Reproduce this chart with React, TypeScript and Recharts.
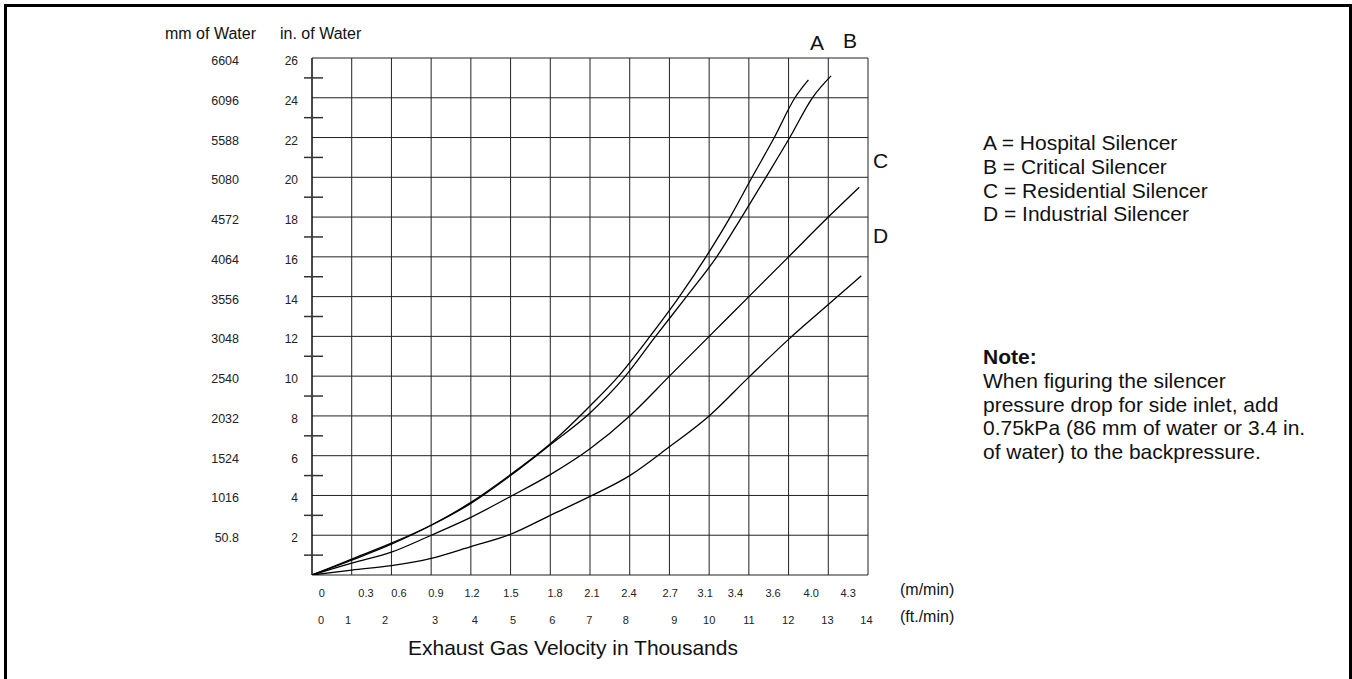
import { LineChart, Line, XAxis, YAxis, CartesianGrid } from 'recharts'

// velocity in thousands of ft./min, pressure in in. of water
const aX = [0, 1, 2, 3, 4, 5, 6, 7, 7.72, 8.51, 9.25, 9.92, 10.53, 11.08, 11.64, 12.16, 12.5]
const aY = [0, 0.75, 1.55, 2.5, 3.65, 5.05, 6.6, 8.5, 10, 12, 14, 16, 18, 20, 22, 24, 24.9]
const bX = [0, 1, 2, 3, 4, 5, 6, 7, 7.89, 8.65, 9.43, 10.19, 10.82, 11.43, 12.03, 12.6, 13.07]
const bY = [0, 0.8, 1.6, 2.5, 3.6, 5.0, 6.55, 8.15, 10, 12, 14, 16, 18, 20, 22, 24, 25.1]
const cX = [0, 1, 2, 3, 4, 5, 6, 7, 8, 9, 10, 11, 12, 13, 13.78]
const cY = [0, 0.6, 1.15, 2, 2.9, 3.95, 5.05, 6.35, 8, 10, 12, 14, 16, 18, 19.5]
const dX = [0, 1, 2, 3, 4, 5, 6, 7, 8, 9, 10, 11, 12, 13, 13.83]
const dY = [0, 0.25, 0.47, 0.84, 1.43, 2.05, 3.0, 3.95, 5.0, 6.45, 8, 9.95, 11.85, 13.6, 15.05]

const inTicks = [2, 4, 6, 8, 10, 12, 14, 16, 18, 20, 22, 24, 26]
const mmLabels = ['50.8', '1016', '1524', '2032', '2540', '3048', '3556', '4064', '4572', '5080', '5588', '6096', '6604']
const minorTicks = [1, 3, 5, 7, 9, 11, 13, 15, 17, 19, 21, 23, 25]
const gridX = [0, 1, 2, 3, 4, 5, 6, 7, 8, 9, 10, 11, 12, 13, 14]
const gridY = [0, 2, 4, 6, 8, 10, 12, 14, 16, 18, 20, 22, 24, 26]

// where each label sits along the ft./min scale
const mTickAt = [0.25, 1.36, 2.19, 3.12, 4.03, 5.01, 6.12, 7.05, 7.98, 9.02, 9.9, 10.66, 11.61, 12.57, 13.5]
const mLabels = ['0', '0.3', '0.6', '0.9', '1.2', '1.5', '1.8', '2.1', '2.4', '2.7', '3.1', '3.4', '3.6', '4.0', '4.3']
const ftTickAt = [0.23, 0.91, 1.84, 3.1, 4.1, 5.06, 6.05, 6.98, 7.9, 9.12, 10.0, 11.0, 11.99, 12.98, 13.96]
const ftLabels = ['0', '1', '2', '3', '4', '5', '6', '7', '8', '9', '10', '11', '12', '13', '14']

const legend = ['A = Hospital Silencer', 'B = Critical Silencer', 'C = Residential Silencer', 'D = Industrial Silencer']
const noteLines = ['When figuring the silencer', 'pressure drop for side inlet, add', '0.75kPa (86 mm of water or 3.4 in.', 'of water) to the backpressure.']

const toPts = (xs: number[], ys: number[]) => xs.map((x, i) => ({ x, y: ys[i] }))
const series = [toPts(aX, aY), toPts(bX, bY), toPts(cX, cY), toPts(dX, dY)]
const yTicks = [0, ...minorTicks, ...inTicks].sort((p, q) => p - q)

const FONT = "'Liberation Sans', Arial, sans-serif"

const YTick = (props: any) => {
  const { x, y, payload } = props
  const v = payload.value
  if (minorTicks.includes(v)) {
    return <line x1={x - 8} x2={x + 11} y1={y} y2={y} stroke="#333" strokeWidth={1.5} />
  }
  const i = inTicks.indexOf(v)
  if (i < 0) return <g />
  return (
    <g fill="#222" fontFamily={FONT}>
      <text x={x - 14} y={y + 3} textAnchor="end" dominantBaseline="central" fontSize={12}>{inTicks[i]}</text>
      <text x={x - 73} y={y + 3} textAnchor="end" dominantBaseline="central" fontSize={12.5}>{mmLabels[i]}</text>
    </g>
  )
}

const txt = (left: number, top: number, size: number, lh: number, extra: any = {}) => ({
  position: 'absolute' as const, left, top, fontSize: size, lineHeight: `${lh}px`, whiteSpace: 'nowrap' as const, color: '#111', ...extra,
})

export default function App() {
  return (
    <div style={{ position: 'absolute', left: 0, top: 0, width: 1352, height: 679, overflow: 'hidden', background: '#fff', fontFamily: FONT }}>
      <div style={{ position: 'absolute', left: 4, top: 4, width: 1348, height: 700, border: '3px solid #000', boxSizing: 'border-box' }} />
      <LineChart width={1352} height={679} margin={{ top: 58, right: 484, left: 0, bottom: 44 }}
        style={{ position: 'absolute', left: 0, top: 0 }}>
        <CartesianGrid xAxisId="b_ft" verticalValues={gridX} horizontalValues={gridY} stroke="#222" strokeWidth={1} />
        <XAxis xAxisId="b_ft" dataKey="x" type="number" domain={[0, 14]} ticks={ftTickAt} interval={0}
          tickFormatter={(_v: number, i: number) => ftLabels[i]} height={30} tickSize={0} tickMargin={11}
          tickLine={false} axisLine={false} tick={{ fontSize: 11, fill: '#222' }} allowDataOverflow />
        <XAxis xAxisId="a_m" dataKey="x" type="number" domain={[0, 14]} ticks={mTickAt} interval={0}
          tickFormatter={(_v: number, i: number) => mLabels[i]} height={30} tickSize={0} tickMargin={14}
          tickLine={false} axisLine={false} tick={{ fontSize: 11, fill: '#222' }} allowDataOverflow />
        <YAxis type="number" domain={[0, 26]} ticks={yTicks} interval={0} width={312} tickSize={0} tickMargin={0}
          tickLine={false} axisLine={{ stroke: '#000' }} tick={<YTick />} allowDataOverflow />
        {series.map((d, i) => (
          <Line key={i} xAxisId="b_ft" data={d} dataKey="y" type="monotone" dot={false} activeDot={false}
            stroke="#000" strokeWidth={1.3} isAnimationActive={false} />
        ))}
      </LineChart>

      <div style={txt(165, 24, 16, 20)}>mm of Water</div>
      <div style={txt(280, 24, 16, 20)}>in. of Water</div>

      <div style={txt(810, 32, 21, 21)}>A</div>
      <div style={txt(843, 30, 21, 21)}>B</div>
      <div style={txt(873, 149.5, 21, 21)}>C</div>
      <div style={txt(873, 224.5, 21, 21)}>D</div>

      <div style={txt(983, 131.2, 21, 23.65)}>
        {legend.map(l => <div key={l}>{l}</div>)}
      </div>
      <div style={txt(983, 345.2, 21, 23.65)}>
        <div style={{ fontWeight: 'bold' }}>Note:</div>
        {noteLines.map(l => <div key={l}>{l}</div>)}
      </div>

      <div style={txt(900, 580, 16, 20)}>(m/min)</div>
      <div style={txt(900, 607, 16, 20)}>(ft./min)</div>
      <div style={txt(408, 636, 21, 24)}>Exhaust Gas Velocity in Thousands</div>
    </div>
  )
}
